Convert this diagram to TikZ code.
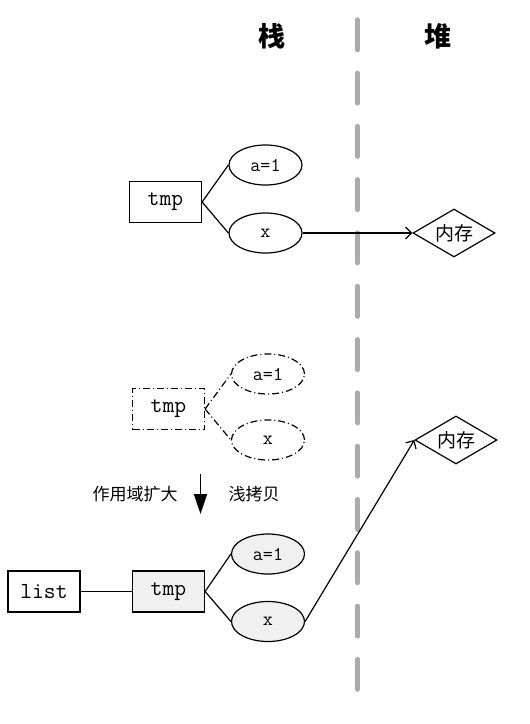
\documentclass[tikz,border=0pt]{standalone}
\usepackage{fontspec}
\newfontfamily\cjk{Noto Sans CJK SC}
\usetikzlibrary{shapes.geometric,arrows.meta}

\tikzset{
  varbox/.style={draw, rectangle, minimum width=72pt, minimum height=41pt, inner sep=0pt, font=\fontsize{23}{23}\ttfamily},
  fieldell/.style={draw, ellipse, minimum width=73pt, minimum height=40pt, inner sep=0pt, font=\fontsize{19.5}{19.5}\ttfamily},
  memdiamond/.style={draw, diamond, aspect=1.7, minimum width=82pt, minimum height=48pt, inner sep=0pt, font=\fontsize{19}{19}\cjk},
  ghost/.style={dash pattern=on 7pt off 3pt on 1pt off 3pt},
  copied/.style={fill=black!6},
  ref/.style={-{Straight Barb[length=6pt,width=12pt]}},
  cjklabel/.style={font=\fontsize{17}{17}\cjk},
}

\begin{document}
\begin{tikzpicture}[x=1pt, y=-1pt, line width=1.2pt]
    \useasboundingbox (0,0) rectangle (530,724);

    % Titles and divider
    \node[font=\fontsize{27}{27}\cjk\bfseries] at (272, 36) (stackTitle) {栈};
    \node[font=\fontsize{27}{27}\cjk\bfseries] at (438, 36) (heapTitle) {堆};
    \coordinate (divTop) at (357.5, 19.5);
    \coordinate (divBottom) at (357.5, 689.5);
    \draw[black!33, line width=4.5pt, line cap=round, dash pattern=on 30.5pt off 22.8pt] (divTop) -- (divBottom);

    % Local variable
    \node[varbox] at (165.5, 202) (tmpA) {tmp};
    \node[fieldell] at (265.5, 165) (aA) {a=1};
    \node[fieldell] at (265.5, 233) (xA) {x};
    \node[memdiamond] at (454, 233) (memA) {内存};

    \draw (tmpA.east) -- (aA.west);
    \draw (tmpA.east) -- (xA.west);
    \draw[ref] (xA.east) -- (memA.west);

    % Old scope
    \node[varbox, ghost] at (168.5, 409) (tmpB) {tmp};
    \node[fieldell, ghost] at (268, 374) (aB) {a=1};
    \node[fieldell, ghost] at (268, 440) (xB) {x};

    \draw[ghost] (tmpB.east) -- (aB.west);
    \draw[ghost] (tmpB.east) -- (xB.west);

    % Scope grows
    \coordinate (growTop) at (200.5, 474);
    \coordinate (growEnd) at (200.5, 514);
    \draw[line width=1.8pt, -{Triangle[length=20pt,width=13pt]}] (growTop) -- (growEnd);
    \node[cjklabel] at (135, 494) (growLabel) {作用域扩大};
    \node[cjklabel] at (254, 494) (copyLabel) {浅拷贝};

    % Shallow copy in list
    \node[varbox] at (44, 591.5) (list) {list};
    \node[varbox, copied] at (168.5, 591.5) (tmpC) {tmp};
    \node[fieldell, copied] at (268, 554) (aC) {a=1};
    \node[fieldell, copied] at (268, 621.5) (xC) {x};
    \node[memdiamond] at (456, 440) (memB) {内存};

    \draw (list) -- (tmpC);
    \draw (tmpC.east) -- (aC.west);
    \draw (tmpC.east) -- (xC.west);
    \draw[ref] (xC.east) -- (memB.west);
\end{tikzpicture}
\end{document}
